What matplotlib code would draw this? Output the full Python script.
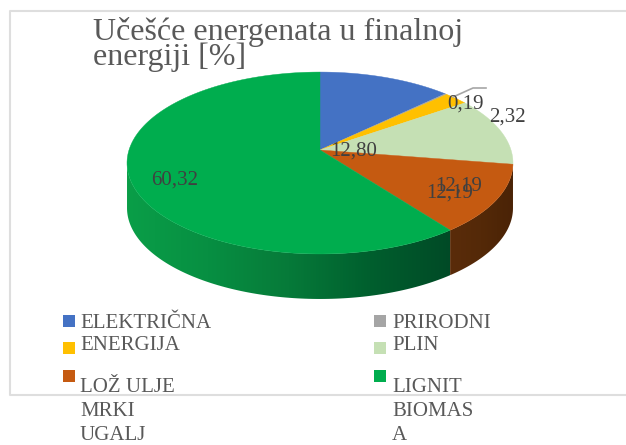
import matplotlib
matplotlib.use("Agg")
import matplotlib.pyplot as plt
from matplotlib.colors import LinearSegmentedColormap
from matplotlib.patches import Polygon
from matplotlib.transforms import Affine2D
import numpy as np

title_lines = ["Učešće energenata u finalnoj", "energiji [%]"]
values = [12.80, 0.19, 2.32, 12.19, 12.19, 60.32]
colors = ["#4472C4", "#A5A5A5", "#FFC000", "#C5E0B4", "#C55A11", "#00AD4E"]
value_labels = ["12,80", "0,19", "2,32", "12,19", "12,19", "60,32"]
label_pos = [(354, 151), (465, 104), (507, 117), (459, 186), (450, 193), (175, 180)]
legend_col1 = [("ELEKTRIČNA", 328), ("ENERGIJA", 350), ("LOŽ ULJE", 392), ("MRKI", 416), ("UGALJ", 440)]
legend_col2 = [("PRIRODNI", 328), ("PLIN", 350), ("LIGNIT", 392), ("BIOMAS", 416), ("A", 440)]
swatch_y = [321, 348, 376]

# pie geometry in image pixels
cx, cy = 320, 150
rx, ry = 191, 89.1
persp = 0.143
depth = 45

plt.rcParams["font.family"] = ["Liberation Serif", "DejaVu Serif"]


def project(u, v):
    s = 1 / (1 + persp * v)
    return cx + rx * u * s, cy - ry * v * s


fig = plt.figure(figsize=(6.26, 4.45), dpi=100)
ax = fig.add_axes([0, 0, 1, 1])

wedges, _ = ax.pie(values, colors=colors, startangle=90, counterclock=False, radius=1)
ax.set_aspect("auto")
ax.axis("off")

# side wall, only the green and orange slices show on the front
fractions = np.cumsum(values) / np.sum(values)
split = np.pi / 2 - 2 * np.pi * fractions[4]
right_end = -np.arcsin(persp)
left_end = -np.pi + np.arcsin(persp)


def wall_polygon(a0, a1):
    t = np.linspace(a0, a1, 120)
    x, y = project(np.cos(t), np.sin(t))
    return np.column_stack([np.r_[x, x[::-1]], np.r_[y, y[::-1] + depth]])


green_map = LinearSegmentedColormap.from_list("g", ["#0A9E48", "#078F42", "#067A39", "#005F2E", "#004A26"])
brown_map = LinearSegmentedColormap.from_list("b", ["#5A2C0A", "#542908", "#4A2306"])
grad = np.linspace(0, 1, 256).reshape(1, -1)
for a0, a1, cmap in [(left_end, split, green_map), (split, right_end, brown_map)]:
    poly = wall_polygon(a0, a1)
    patch = Polygon(poly, closed=True, fc="none", ec="none", transform=ax.transData)
    ax.add_patch(patch)
    im = ax.imshow(grad, cmap=cmap, aspect="auto", zorder=1,
                   extent=(poly[:, 0].min(), poly[:, 0].max(), poly[:, 1].max(), poly[:, 1].min()))
    im.set_clip_path(patch)
ax.set_xlim(0, 626)
ax.set_ylim(445, 0)

# top face: pie wedges pushed through the perspective
# (scaled up before flattening, otherwise the arcs come out coarse)
for w in wedges:
    big = Affine2D().scale(1000).transform_path(w.get_patch_transform().transform_path(w.get_path()))
    flat = big.to_polygons()[0] / 1000
    px, py = project(flat[:, 0], flat[:, 1])
    ax.fill(px, py, color=w.get_facecolor(), lw=0.3, zorder=2)
    w.set_visible(False)

# frame
ax.plot([626, 9.5, 9.5, 626], [10.5, 10.5, 394.5, 394.5], color="#DEDEDE", lw=1.5, zorder=1)

ax.text(93, 17, "\n".join(title_lines), fontsize=23, color="#595959", va="top", linespacing=0.78, zorder=5)

# leader line for the thin gas slice
ax.plot([453, 473, 486], [97, 88, 88], color="#A6A6A6", lw=1.2, zorder=3)

for lab, (x, y) in zip(value_labels, label_pos):
    ax.text(x, y, lab, fontsize=15, color="#404040", ha="center", va="center", zorder=5)

for i, y in enumerate(swatch_y):
    ax.scatter(69, y, marker="s", s=75, color=colors[[0, 2, 4][i]], lw=0, zorder=4)
    ax.scatter(380, y, marker="s", s=75, color=colors[[1, 3, 5][i]], lw=0, zorder=4)
for txt, y in legend_col1:
    ax.text(80, y, txt, fontsize=15, color="#595959", zorder=5)
for txt, y in legend_col2:
    ax.text(392, y, txt, fontsize=15, color="#595959", zorder=5)

fig.savefig("out.png", dpi=100)
plt.close(fig)
